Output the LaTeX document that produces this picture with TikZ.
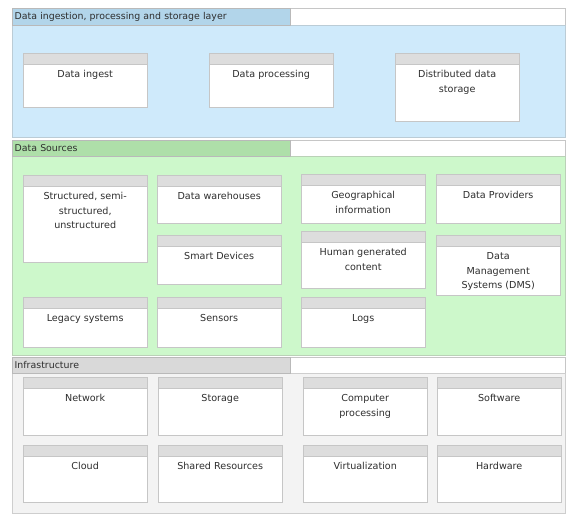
\documentclass[tikz,border=0pt]{standalone}
\usepackage{fontspec}
\setmainfont{DejaVu Sans}

\definecolor{ingestbody}{HTML}{CFEAFB}
\definecolor{ingesttab}{HTML}{B2D5EA}
\definecolor{srcbody}{HTML}{CDF8CB}
\definecolor{srctab}{HTML}{AEDFA9}
\definecolor{infrabody}{HTML}{F3F3F3}
\definecolor{infratab}{HTML}{D9D9D9}
\definecolor{boxline}{HTML}{C6C6C6}
\definecolor{boxhead}{HTML}{DDDDDD}
\definecolor{inktext}{HTML}{2E2E2E}

\tikzset{
    layertab/.style={fill=#1, draw=gray!55, anchor=north west, inner sep=2.5pt,
        text width=273pt, minimum height=17pt, align=left, text=inktext,
        font=\fontsize{9.4}{10}\selectfont},
    comp/.style={draw=boxline, fill=white, anchor=north west, inner sep=0pt,
        minimum width=124pt, minimum height=#1,
        path picture={\fill[boxhead] (path picture bounding box.north west)
            rectangle ([yshift=-11pt]path picture bounding box.north east);
            \draw[boxline] ([yshift=-11pt]path picture bounding box.north west)
            -- ([yshift=-11pt]path picture bounding box.north east);}},
    comptext/.style={label={[anchor=north, yshift=-17.5pt, inner sep=0pt, align=center,
        text=inktext, font=\fontsize{9.6}{14.5}\selectfont]north:{#1}}}
}

\begin{document}
\begin{tikzpicture}[x=1pt,y=-1pt]
    \useasboundingbox[fill=white] (0,0) rectangle (566,514);

    \draw[gray!45, fill=white] (12,8) rectangle (565,25);
    \draw[ingesttab!80!black!60, fill=ingestbody] (12,25) rectangle (565,137);
    \node[layertab=ingesttab] (ingestlayer) at (12,8) {Data ingestion, processing and storage layer};

    \node[comp=54pt, comptext={Data ingest}] (ingest) at (23,53) {};
    \node[comp=54pt, comptext={Data processing}] (processing) at (209,53) {};
    \node[comp=68pt, comptext={Distributed data\\storage}] (diststore) at (395,53) {};

    \draw[gray!45, fill=white] (12,140) rectangle (565,156);
    \draw[srctab!80!black!60, fill=srcbody] (12,156) rectangle (565,355);
    \node[layertab=srctab, minimum height=16pt] (srclayer) at (12,140) {Data Sources};

    \node[comp=87pt, comptext={Structured, semi-\\structured,\\unstructured}] (structured) at (23,175) {};
    \node[comp=48pt, comptext={Data warehouses}] (warehouses) at (157,175) {};
    \node[comp=49pt, comptext={Smart Devices}] (smartdev) at (157,235) {};
    \node[comp=49pt, comptext={Geographical\\information}] (geo) at (301,174) {};
    \node[comp=57pt, comptext={Human generated\\content}] (humangen) at (301,231) {};
    \node[comp=49pt, comptext={Data Providers}] (providers) at (436,174) {};
    \node[comp=60pt, comptext={Data\\Management\\Systems (DMS)}] (dms) at (436,235) {};
    \node[comp=50pt, comptext={Legacy systems}] (legacy) at (23,297) {};
    \node[comp=50pt, comptext={Sensors}] (sensors) at (157,297) {};
    \node[comp=50pt, comptext={Logs}] (logs) at (301,297) {};

    \draw[gray!45, fill=white] (12,357) rectangle (565,373);
    \draw[infratab!80!black!60, fill=infrabody] (12,373) rectangle (565,513);
    \node[layertab=infratab, minimum height=16pt] (infralayer) at (12,357) {Infrastructure};

    \node[comp=58pt, comptext={Network}] (network) at (23,377) {};
    \node[comp=58pt, comptext={Storage}] (storage) at (158,377) {};
    \node[comp=58pt, comptext={Computer\\processing}] (computing) at (303,377) {};
    \node[comp=58pt, comptext={Software}] (software) at (437,377) {};
    \node[comp=57pt, comptext={Cloud}] (cloud) at (23,445) {};
    \node[comp=57pt, comptext={Shared Resources}] (shared) at (158,445) {};
    \node[comp=57pt, comptext={Virtualization}] (virtual) at (303,445) {};
    \node[comp=57pt, comptext={Hardware}] (hardware) at (437,445) {};
\end{tikzpicture}
\end{document}
